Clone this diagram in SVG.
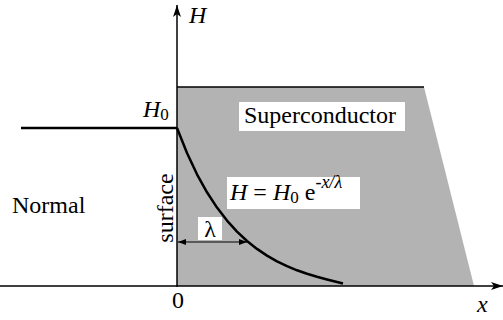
<svg xmlns="http://www.w3.org/2000/svg" width="503" height="320" viewBox="0 0 503 320">
<style>
text{font-family:'Liberation Serif','Times New Roman',serif;font-size:24px;fill:#000}
.it{font-style:italic}
.box{fill:#fff}
.thick{fill:none;stroke:#000;stroke-width:2.5;stroke-linejoin:round}
.axis{fill:none;stroke:#000;stroke-width:1.5}
</style>
<defs>
<marker id="ah" viewBox="0 0 12 8" refX="12" refY="4" markerWidth="12" markerHeight="8" markerUnits="userSpaceOnUse" orient="auto">
<path d="M0,0 L12,4 L0,8 L3,4 Z" fill="#000"/>
</marker>
<marker id="sa" viewBox="0 0 8 6" refX="8" refY="3" markerWidth="8" markerHeight="6" markerUnits="userSpaceOnUse" orient="auto-start-reverse">
<path d="M0,0 L8,3 L0,6 Z" fill="#000"/>
</marker>
</defs>
<g id="superconductor">
<polygon points="177,87 424,87 474,286 177,286" fill="#b3b3b3"/>
<line x1="177" y1="87" x2="424" y2="87" class="axis"/>
<rect x="239" y="102" width="166" height="29" class="box"/>
<text x="244" y="123">Superconductor</text>
</g>
<g id="normal">
<text x="12" y="213">Normal</text>
</g>
<g id="connectors">
<line x1="0" y1="286" x2="503" y2="286" class="axis" marker-end="url(#ah)"/>
<line x1="177" y1="287" x2="177" y2="5" class="axis" marker-end="url(#ah)"/>
<polyline class="thick" points="21,128 177,128"/>
<path class="thick" d="M177,128 L187,153 L197,174.3 L207,192.3 L217,207.6 L227,220.6 L237,231.6 L247,241 L257,248.9 L267,255.6 L277,261.3 L287,266.2 L297,270.3 L307,273.8 L317,276.8 L327,279.5 L335,281.5 L343,283.5"/>
<line x1="178" y1="242" x2="247" y2="242" stroke="#000" stroke-width="1.2" marker-start="url(#sa)" marker-end="url(#sa)"/>
</g>
<g id="labels">
<text x="189" y="23" class="it">H</text>
<text x="143" y="117"><tspan class="it">H</tspan><tspan font-size="17" dy="3">0</tspan></text>
<text x="178" y="308" text-anchor="middle">0</text>
<text x="477" y="312" class="it">x</text>
<text transform="translate(173,208) rotate(-90)" text-anchor="middle">surface</text>
</g>
<g id="formula">
<rect x="227" y="177" width="133" height="32" class="box"/>
<text x="230" y="200"><tspan class="it">H</tspan> = <tspan class="it">H</tspan><tspan font-size="17" dy="3">0</tspan><tspan dy="-3"> e</tspan><tspan font-size="18" dy="-12" class="it">-x/λ</tspan></text>
</g>
<g id="lambda">
<rect x="198" y="217" width="24" height="23" class="box"/>
<text x="210" y="237" text-anchor="middle">λ</text>
</g>
</svg>
